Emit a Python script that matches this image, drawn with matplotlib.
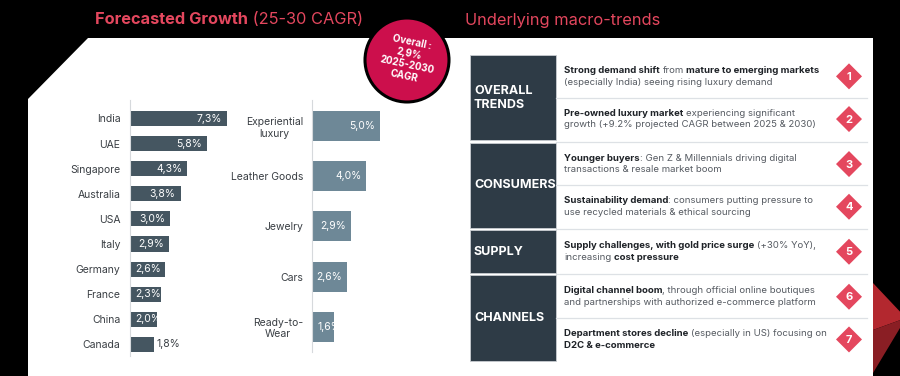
import re
import matplotlib
matplotlib.use("Agg")
import matplotlib.pyplot as plt
from matplotlib.patches import Polygon, Circle, Rectangle

# ---------------- data ----------------
countries = ["India", "UAE", "Singapore", "Australia", "USA", "Italy",
             "Germany", "France", "China", "Canada"]
country_growth = [7.3, 5.8, 4.3, 3.8, 3.0, 2.9, 2.6, 2.3, 2.0, 1.8]
outside_labels = ["Canada"]

categories = ["Experiential\nluxury", "Leather Goods", "Jewelry", "Cars", "Ready-to-\nWear"]
category_growth = [5.0, 4.0, 2.9, 2.6, 1.6]

title_bold = "Forecasted Growth"
title_rest = " (25-30 CAGR)"
right_title = "Underlying macro-trends"
overall_label = "Overall :\n2,9%\n2025-2030\nCAGR"

trend_groups = ["OVERALL\nTRENDS", "CONSUMERS", "SUPPLY", "CHANNELS"]
group_sizes = [2, 2, 1, 2]
trend_items = [
    "**Strong demand shift** from **mature to emerging markets**\n(especially India) seeing rising luxury demand",
    "**Pre-owned luxury market** experiencing significant\ngrowth (+9.2% projected CAGR between 2025 & 2030)",
    "**Younger buyers**: Gen Z & Millennials driving digital\ntransactions & resale market boom",
    "**Sustainability demand**: consumers putting pressure to\nuse recycled materials & ethical sourcing",
    "**Supply challenges, with gold price surge** (+30% YoY),\nincreasing **cost pressure**",
    "**Digital channel boom**, through official online boutiques\nand partnerships with authorized e-commerce platform",
    "**Department stores decline** (especially in US) focusing on\n**D2C & e-commerce**",
]

# ---------------- style ----------------
FONT = "Inter"
plt.rcParams["font.family"] = [FONT, "DejaVu Sans"]
PINK = "#e4475e"
CRIMSON = "#cc0f4c"
DARK_BAR = "#455661"
LIGHT_BAR = "#6e8897"
BOX = "#2e3b46"
W, H = 900, 376

fig = plt.figure(figsize=(W / 100, H / 100), dpi=100, facecolor="black")
renderer = fig.canvas.get_renderer()

ax0 = fig.add_axes([0, 0, 1, 1], zorder=0)
ax0.set_xlim(0, W)
ax0.set_ylim(H, 0)
ax0.axis("off")
ax0.set_facecolor("black")


def px_axes(x0, y0, x1, y1, z=2):
    a = fig.add_axes([x0 / W, 1 - y1 / H, (x1 - x0) / W, (y1 - y0) / H], zorder=z)
    a.set_facecolor("none")
    return a


def text_w(t):
    return t.get_window_extent(renderer).width


# red pyramid at right edge
ax0.add_patch(Polygon([(873, 283), (906, 318), (873, 330)], closed=True,
                      facecolor="#b3282f", edgecolor="none"))
ax0.add_patch(Polygon([(873, 330), (906, 318), (873, 373)], closed=True,
                      facecolor="#8a1e24", edgecolor="none"))

# white panel with cut corner
ax0.add_patch(Polygon([(88, 38), (873, 38), (873, H + 5), (28, H + 5), (28, 99)],
                      closed=True, facecolor="white", edgecolor="none"))

# titles
TFS = 11.8
t1 = ax0.text(95, 20, title_bold, color=PINK, fontsize=TFS, fontweight="bold",
              ha="left", va="center")
ax0.text(95 + text_w(t1), 20, title_rest, color=PINK, fontsize=TFS,
         ha="left", va="center")
ax0.text(465, 20, right_title, color=PINK, fontsize=TFS, ha="left", va="center")

# overall circle
ax0.add_patch(Circle((407, 60), 42, facecolor=CRIMSON, edgecolor="black", lw=2.2, zorder=3))
ax0.text(408, 59, overall_label, color="white", fontsize=7, fontweight="bold",
         ha="center", va="center", rotation=-12, rotation_mode="anchor",
         linespacing=1.2, multialignment="center", zorder=4)


# ---------------- bar charts ----------------
def fmt(v):
    return f"{v:.1f}%".replace(".", ",")


def bar_panel(x_axis, y_top, y_bot, first_c, step, scale, width_px, labels, vals,
              color, pad_pt, fs_lab, fs_val, outside=()):
    n = len(vals)
    ax = px_axes(x_axis, y_top, x_axis + width_px, y_bot)
    ymin = (y_top - first_c) / step
    ymax = (y_bot - first_c) / step
    ax.set_ylim(ymax, ymin)
    ax.set_xlim(0, width_px / scale)
    bars = ax.barh(range(n), vals, height=0.6, color=color, edgecolor="none")
    ax.set_yticks(range(n))
    ax.set_yticklabels(labels, fontsize=fs_lab, color="#3a3f44")
    for lbl in ax.get_yticklabels():
        lbl.set_multialignment("center")
    ax.tick_params(axis="y", length=0, pad=pad_pt)
    ax.set_xticks([])
    for s in ["top", "right", "bottom"]:
        ax.spines[s].set_visible(False)
    ax.spines["left"].set_color("#d6d9dc")
    ax.spines["left"].set_linewidth(0.8)
    for i, (lab, v, b) in enumerate(zip(labels, vals, bars)):
        s = fmt(v)
        if lab in outside:
            ax.text(v + 3 / scale, i, s, color="#3a3f44", fontsize=fs_val,
                    ha="left", va="center")
            continue
        t = ax.text(v - 5 / scale, i, s, color="white", fontsize=fs_val,
                    ha="right", va="center")
        if text_w(t) + 9 > v * scale:
            t.set_ha("left")
            t.set_x(5 / scale)
            t.set_clip_on(True)
            t.set_clip_path(b)
    return ax


bar_panel(130, 100, 356, 118.5, 25.1, 13.3, 125, countries, country_growth,
          DARK_BAR, 7, 7.5, 7.5, outside_labels)
bar_panel(312, 100, 352, 126, 50.2, 13.6, 120, categories, category_growth,
          LIGHT_BAR, 6.5, 7.5, 7.5)

# ---------------- trends table ----------------
row_h = 42.7
group_gap = 2.3
box_x0, box_x1 = 470, 556
text_x = 564
line_x1 = 867
diam_x = 849
ITEM_FS = 6.9

# regular space width
_a = ax0.text(0, -50, "a a", fontsize=ITEM_FS)
_b = ax0.text(0, -50, "aa", fontsize=ITEM_FS)
SPACE_W = text_w(_a) - text_w(_b)
_a.remove(); _b.remove()


def rich_line(x, y, line, fs=ITEM_FS):
    parts = [p for p in re.split(r"(\*\*.*?\*\*)", line) if p]
    for p in parts:
        bold = p.startswith("**")
        s = p.strip("*") if bold else p
        lead = len(s) - len(s.lstrip(" "))
        trail = len(s) - len(s.rstrip(" "))
        x += lead * SPACE_W
        core = s.strip(" ")
        if core:
            t = ax0.text(x, y, core, fontsize=fs, ha="left", va="center",
                         fontweight="bold" if bold else "normal",
                         color="#1f2328" if bold else "#555a61")
            x += text_w(t)
        x += trail * SPACE_W


y = 55
item = 0
for g, size in zip(trend_groups, group_sizes):
    gy0 = y
    gy1 = y + size * row_h
    ax0.add_patch(Rectangle((box_x0, gy0), box_x1 - box_x0, gy1 - gy0,
                            facecolor=BOX, edgecolor="#c9cdd1", lw=0.6))
    ax0.text(box_x0 + 4, (gy0 + gy1) / 2, g, color="white", fontsize=9,
             fontweight="bold", ha="left", va="center", linespacing=1.2)
    for k in range(size):
        ry0 = gy0 + k * row_h
        rc = ry0 + row_h / 2
        lines = trend_items[item].split("\n")
        offs = [-5.8, 5.8] if len(lines) == 2 else [0]
        for ln, off in zip(lines, offs):
            rich_line(text_x, rc + off, ln)
        # diamond
        d = 13
        ax0.add_patch(Polygon([(diam_x, rc - d), (diam_x + d, rc), (diam_x, rc + d),
                               (diam_x - d, rc)], closed=True, facecolor=PINK,
                              edgecolor="none"))
        ax0.text(diam_x, rc + 0.5, str(item + 1), color="white", fontsize=8,
                 fontweight="bold", ha="center", va="center")
        if item < len(trend_items) - 1:
            sep_y = ry0 + row_h + (group_gap / 2 if k == size - 1 else 0)
            ax0.plot([box_x1, line_x1], [sep_y, sep_y], color="#dde1e5", lw=0.9)
        item += 1
    y = gy1 + group_gap

fig.savefig("out.png", dpi=100, facecolor="black")
